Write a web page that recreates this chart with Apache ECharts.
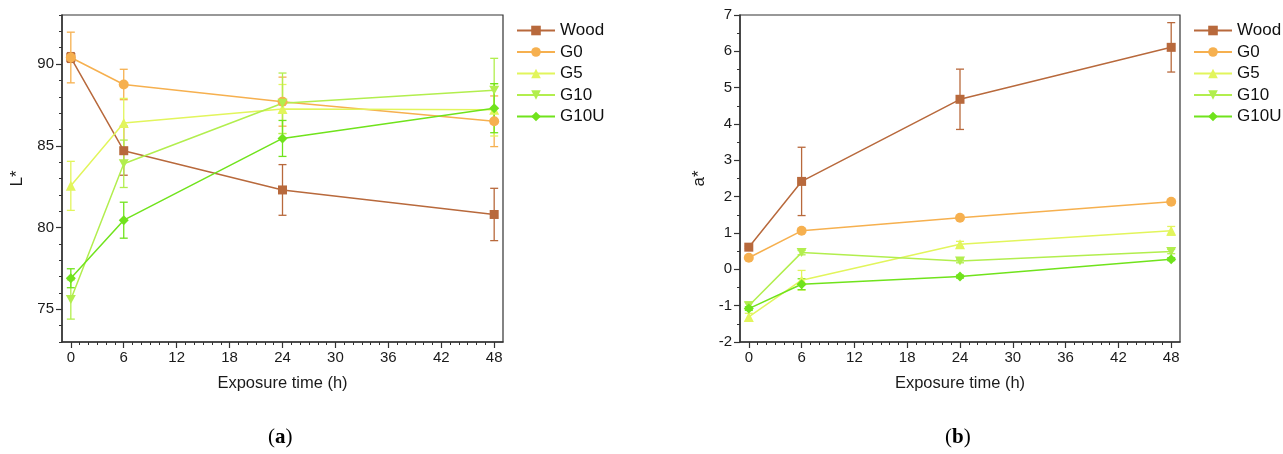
<!DOCTYPE html>
<html>
<head>
<meta charset="utf-8">
<script src="https://cdn.jsdelivr.net/npm/echarts@6/dist/echarts.min.js"></script>
<style>
  html, body { margin: 0; padding: 0; background: #fff; }
  #chart_container { width: 1283px; height: 454px; }
</style>
</head>
<body>
<div id="chart_container"></div>
<script>
// exposure times (h)
const hours = [0, 6, 24, 48];
const names = ["Wood", "G0", "G5", "G10", "G10U"];
const colors = ["#b8693c", "#f6b04f", "#e2f55c", "#b2ee4e", "#70e31c"];
const symbols = ["rect", "circle", "triangle",
  "path://M0,0 L10,0 L5,9 Z", "diamond"];

// L* values and errors
const lWood = [90.4, 84.7, 82.3, 80.8];
const lWoodErr = [0.3, 1.5, 1.55, 1.6];
const lG0 = [90.4, 88.75, 87.7, 86.5];
const lG0Err = [1.55, 0.93, 1.5, 1.55];
const lG5 = [82.55, 86.4, 87.25, 87.2];
const lG5Err = [1.5, 1.5, 1.5, 1.6];
const lG10 = [75.6, 83.9, 87.6, 88.4];
const lG10Err = [1.2, 1.45, 1.85, 1.95];
const lG10U = [76.9, 80.45, 85.45, 87.3];
const lG10UErr = [0.58, 1.1, 1.1, 1.5];

// a* values and errors
const aWood = [0.61, 2.42, 4.68, 6.11];
const aWoodErr = [0.03, 0.94, 0.83, 0.68];
const aG0 = [0.32, 1.06, 1.42, 1.86];
const aG0Err = [0.04, 0.04, 0.04, 0.04];
const aG5 = [-1.31, -0.3, 0.69, 1.06];
const aG5Err = [0.1, 0.27, 0.08, 0.12];
const aG10 = [-1.0, 0.46, 0.23, 0.49];
const aG10Err = [0.1, 0.06, 0.05, 0.06];
const aG10U = [-1.08, -0.41, -0.2, 0.28];
const aG10UErr = [0.05, 0.15, 0.04, 0.04];

const lVals = [lWood, lG0, lG5, lG10, lG10U];
const lErrs = [lWoodErr, lG0Err, lG5Err, lG10Err, lG10UErr];
const aVals = [aWood, aG0, aG5, aG10, aG10U];
const aErrs = [aWoodErr, aG0Err, aG5Err, aG10Err, aG10UErr];

const xMajor = [0, 6, 12, 18, 24, 30, 36, 42, 48];
const xMinor = [];
for (let i = 0; i <= 48; i++) xMinor.push(i);
const lMajor = [75, 80, 85, 90];
const lMinor = [];
for (let i = 73; i <= 93; i++) lMinor.push(i);

const font = "Liberation Sans";
const axisColor = "#333";

function lineSeries(i, xi, yi, vals) {
  return {
    name: names[i],
    type: "line",
    xAxisIndex: xi,
    yAxisIndex: yi,
    data: hours.map((h, k) => [h, vals[k]]),
    symbol: symbols[i],
    symbolSize: i == 3 ? [10, 9] : (i == 0 ? 9 : 10),
    color: colors[i],
    lineStyle: { width: 1.5, color: colors[i] },
    itemStyle: { color: colors[i] },
    z: 3
  };
}

function errorSeries(i, xi, yi, vals, errs) {
  let color = colors[i];
  return {
    name: names[i] + " err",
    type: "custom",
    xAxisIndex: xi,
    yAxisIndex: yi,
    silent: true,
    z: 2,
    encode: { x: 0, y: [1, 2] },
    data: hours.map((h, k) => [h, vals[k] - errs[k], vals[k] + errs[k]]),
    renderItem: function (params, api) {
      let x = api.value(0);
      let lo = api.coord([x, api.value(1)]);
      let hi = api.coord([x, api.value(2)]);
      let w = 4;
      let st = { stroke: color, lineWidth: 1.3 };
      return {
        type: "group",
        children: [
          { type: "line", shape: { x1: lo[0], y1: lo[1], x2: hi[0], y2: hi[1] }, style: st },
          { type: "line", shape: { x1: lo[0] - w, y1: lo[1], x2: lo[0] + w, y2: lo[1] }, style: st },
          { type: "line", shape: { x1: hi[0] - w, y1: hi[1], x2: hi[0] + w, y2: hi[1] }, style: st }
        ]
      };
    }
  };
}

function mainX(gi) {
  return {
    type: "value", gridIndex: gi, min: -1, max: 49, position: "bottom",
    name: "Exposure time (h)", nameLocation: "middle", nameGap: 33,
    nameTextStyle: { fontFamily: font, fontSize: 16.5, color: "#1a1a1a" },
    axisLine: { onZero: false, lineStyle: { color: axisColor, width: 1.5 } },
    axisTick: { customValues: xMajor, length: 6, lineStyle: { color: axisColor, width: 1.2 } },
    axisLabel: { customValues: xMajor, fontFamily: font, fontSize: 15, color: "#1a1a1a", margin: 8 },
    splitLine: { show: false }
  };
}
function minorX(gi) {
  return {
    type: "value", gridIndex: gi, min: -1, max: 49, position: "bottom",
    axisLine: { show: false, onZero: false },
    axisTick: { customValues: xMinor, length: 3, lineStyle: { color: axisColor, width: 1 } },
    axisLabel: { show: false },
    splitLine: { show: false }
  };
}

function setUpChart() {
  let chart_container = document.getElementById("chart_container");
  let chart = echarts.init(chart_container);

  let series = [];
  for (let i = 0; i < names.length; i++) {
    series.push(lineSeries(i, 0, 0, lVals[i]));
    series.push(lineSeries(i, 2, 2, aVals[i]));
  }
  for (let i = 0; i < names.length; i++) {
    series.push(errorSeries(i, 0, 0, lVals[i], lErrs[i]));
    series.push(errorSeries(i, 2, 2, aVals[i], aErrs[i]));
  }

  let legendBase = {
    orient: "vertical",
    data: names,
    itemWidth: 38,
    itemHeight: 12,
    itemGap: 4.5,
    textStyle: { fontFamily: font, fontSize: 17, color: "#111" },
    selectedMode: false
  };

  let option = {
    animation: false,
    backgroundColor: "#fff",
    grid: [
      { left: 62, top: 15, width: 441, height: 327, show: true, borderColor: axisColor, borderWidth: 1.2 },
      { left: 740, top: 15, width: 440, height: 327, show: true, borderColor: axisColor, borderWidth: 1.2 }
    ],
    xAxis: [mainX(0), minorX(0), mainX(1), minorX(1)],
    yAxis: [
      {
        type: "value", gridIndex: 0, min: 73, max: 93,
        name: "L*", nameLocation: "middle", nameGap: 36,
        nameTextStyle: { fontFamily: font, fontSize: 17, color: "#1a1a1a" },
        axisLine: { show: true, onZero: false, lineStyle: { color: axisColor, width: 1.5 } },
        axisTick: { customValues: lMajor, length: 6, lineStyle: { color: axisColor, width: 1.2 } },
        axisLabel: { customValues: lMajor, fontFamily: font, fontSize: 15, color: "#1a1a1a", margin: 8 },
        splitLine: { show: false }
      },
      {
        type: "value", gridIndex: 0, min: 73, max: 93, position: "left",
        axisLine: { show: false, onZero: false },
        axisTick: { customValues: lMinor, length: 3, lineStyle: { color: axisColor, width: 1 } },
        axisLabel: { show: false },
        splitLine: { show: false }
      },
      {
        type: "value", gridIndex: 1, min: -2, max: 7, interval: 1,
        name: "a*", nameLocation: "middle", nameGap: 32,
        nameTextStyle: { fontFamily: font, fontSize: 17, color: "#1a1a1a" },
        axisLine: { show: true, onZero: false, lineStyle: { color: axisColor, width: 1.5 } },
        axisTick: { length: 6, lineStyle: { color: axisColor, width: 1.2 } },
        minorTick: { show: true, splitNumber: 2, length: 3, lineStyle: { color: axisColor, width: 1 } },
        axisLabel: { fontFamily: font, fontSize: 15, color: "#1a1a1a", margin: 8 },
        splitLine: { show: false },
        minorSplitLine: { show: false }
      },
      {
        type: "value", gridIndex: 1, min: -2, max: 7, position: "left",
        axisLine: { show: false, onZero: false },
        axisTick: { show: false },
        axisLabel: { show: false },
        splitLine: { show: false }
      }
    ],
    legend: [
      Object.assign({ left: 511, top: 17 }, legendBase),
      Object.assign({ left: 1188, top: 17 }, legendBase)
    ],
    graphic: [
      {
        type: "text", left: 268, top: 427,
        style: {
          text: "({b|a})", fontFamily: "Liberation Serif", fontSize: 21, fill: "#000",
          rich: { b: { fontFamily: "Liberation Serif", fontSize: 21, fontWeight: "bold", fill: "#000" } }
        }
      },
      {
        type: "text", left: 945, top: 427,
        style: {
          text: "({b|b})", fontFamily: "Liberation Serif", fontSize: 21, fill: "#000",
          rich: { b: { fontFamily: "Liberation Serif", fontSize: 21, fontWeight: "bold", fill: "#000" } }
        }
      }
    ],
    series: series
  };

  if (chart) {
    chart.setOption(option);
  } else {
    console.error("Echart instance failed to init");
  }
}

setUpChart();
</script>
</body>
</html>
